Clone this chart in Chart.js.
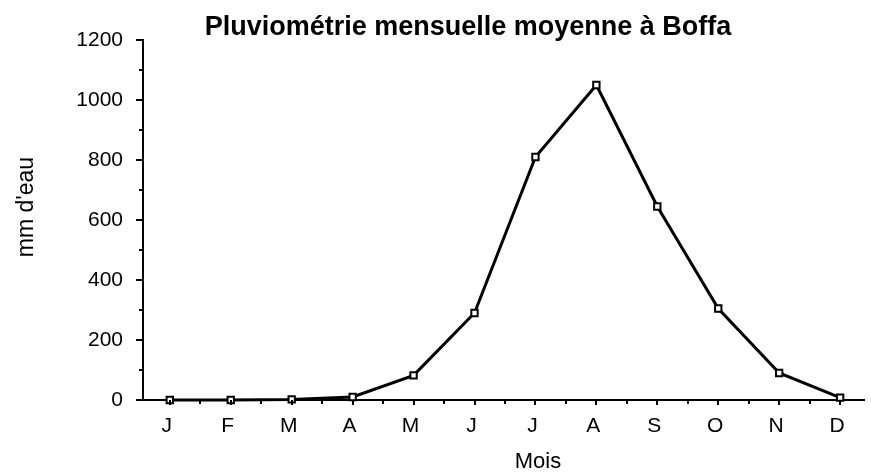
<!DOCTYPE html>
<html>
<head>
<meta charset="utf-8">
<script src="https://cdn.jsdelivr.net/npm/chart.js@4/dist/chart.umd.min.js"></script>
<style>
  html, body { margin: 0; padding: 0; background: #fff; }
  #wrap { position: relative; width: 871px; height: 474px; }
</style>
</head>
<body>
<div id="wrap"><canvas id="c" width="871" height="474"></canvas></div>
<script>
const titleText = 'Pluviométrie mensuelle moyenne à Boffa';
const xTitleText = 'Mois';
const yTitleText = "mm d'eau";
const months = ['J', 'F', 'M', 'A', 'M', 'J', 'J', 'A', 'S', 'O', 'N', 'D'];
const rainfall = [0, 0, 2, 10, 82, 290, 810, 1050, 645, 305, 90, 8];
const yTickValues = [0, 200, 400, 600, 800, 1000, 1200];
const yMinorTickValues = [100, 300, 500, 700, 900, 1100];

const FONT = '"Liberation Sans", Arial, Helvetica, sans-serif';

const decorPlugin = {
  id: 'decor',
  afterDraw(chart) {
    const ctx = chart.ctx;
    const x = chart.scales.x, y = chart.scales.y;
    ctx.save();
    ctx.strokeStyle = '#000';
    ctx.lineWidth = 2;
    const ax = chart.chartArea.left;
    yTickValues.forEach(v => {
      const py = Math.round(y.getPixelForValue(v));
      ctx.beginPath(); ctx.moveTo(ax - 7, py); ctx.lineTo(ax, py); ctx.stroke();
    });
    yMinorTickValues.forEach(v => {
      const py = Math.round(y.getPixelForValue(v));
      ctx.beginPath(); ctx.moveTo(ax - 4, py); ctx.lineTo(ax, py); ctx.stroke();
    });
    const by = chart.chartArea.bottom;
    months.forEach((m, i) => {
      const px = Math.round(x.getPixelForValue(i));
      ctx.beginPath(); ctx.moveTo(px, by); ctx.lineTo(px, by + 5); ctx.stroke();
      if (i + 0.5 <= x.max) {
        const pm = Math.round(x.getPixelForValue(i + 0.5));
        ctx.beginPath(); ctx.moveTo(pm, by); ctx.lineTo(pm, by + 4); ctx.stroke();
      }
    });
    ctx.fillStyle = '#000';
    ctx.textAlign = 'center';
    ctx.textBaseline = 'alphabetic';
    ctx.font = 'bold 27px ' + FONT;
    ctx.fillText(titleText, 468, 35);
    ctx.font = '22px ' + FONT;
    ctx.fillText(xTitleText, 538, 468);
    ctx.translate(33, 207);
    ctx.rotate(-Math.PI / 2);
    ctx.font = '23px ' + FONT;
    ctx.fillText(yTitleText, 0, 0);
    ctx.restore();
  }
};

new Chart(document.getElementById('c'), {
  type: 'line',
  data: {
    datasets: [{
      data: rainfall.map((v, i) => ({ x: i, y: v })),
      borderColor: '#000',
      borderWidth: 3,
      pointStyle: 'rect',
      pointRadius: 4.5,
      pointBorderWidth: 2,
      pointBackgroundColor: '#fff',
      pointBorderColor: '#000',
      tension: 0,
      clip: false
    }]
  },
  options: {
    responsive: false,
    animation: false,
    events: [],
    layout: { padding: { top: 40, right: 3, bottom: 0, left: 0 } },
    plugins: { legend: { display: false }, title: { display: false }, tooltip: { enabled: false } },
    scales: {
      x: {
        type: 'linear',
        min: -0.44,
        max: 11.4,
        grid: { display: false },
        border: { display: true, color: '#000', width: 2 },
        afterBuildTicks: s => { s.ticks = months.map((m, i) => ({ value: i })); },
        afterFit: s => { s.height = 74; },
        ticks: {
          autoSkip: false,
          maxRotation: 0,
          padding: 6,
          labelOffset: -3,
          color: '#000',
          font: { family: FONT, size: 21 },
          callback: (v) => months[v]
        }
      },
      y: {
        type: 'linear',
        min: 0,
        max: 1200,
        grid: { display: false },
        border: { display: true, color: '#000', width: 2 },
        afterBuildTicks: s => { s.ticks = yTickValues.map(v => ({ value: v })); },
        afterFit: s => { s.width = 143; },
        ticks: {
          padding: 12,
          color: '#000',
          font: { family: FONT, size: 21 },
          callback: v => String(v)
        }
      }
    }
  },
  plugins: [decorPlugin]
});
</script>
</body>
</html>
